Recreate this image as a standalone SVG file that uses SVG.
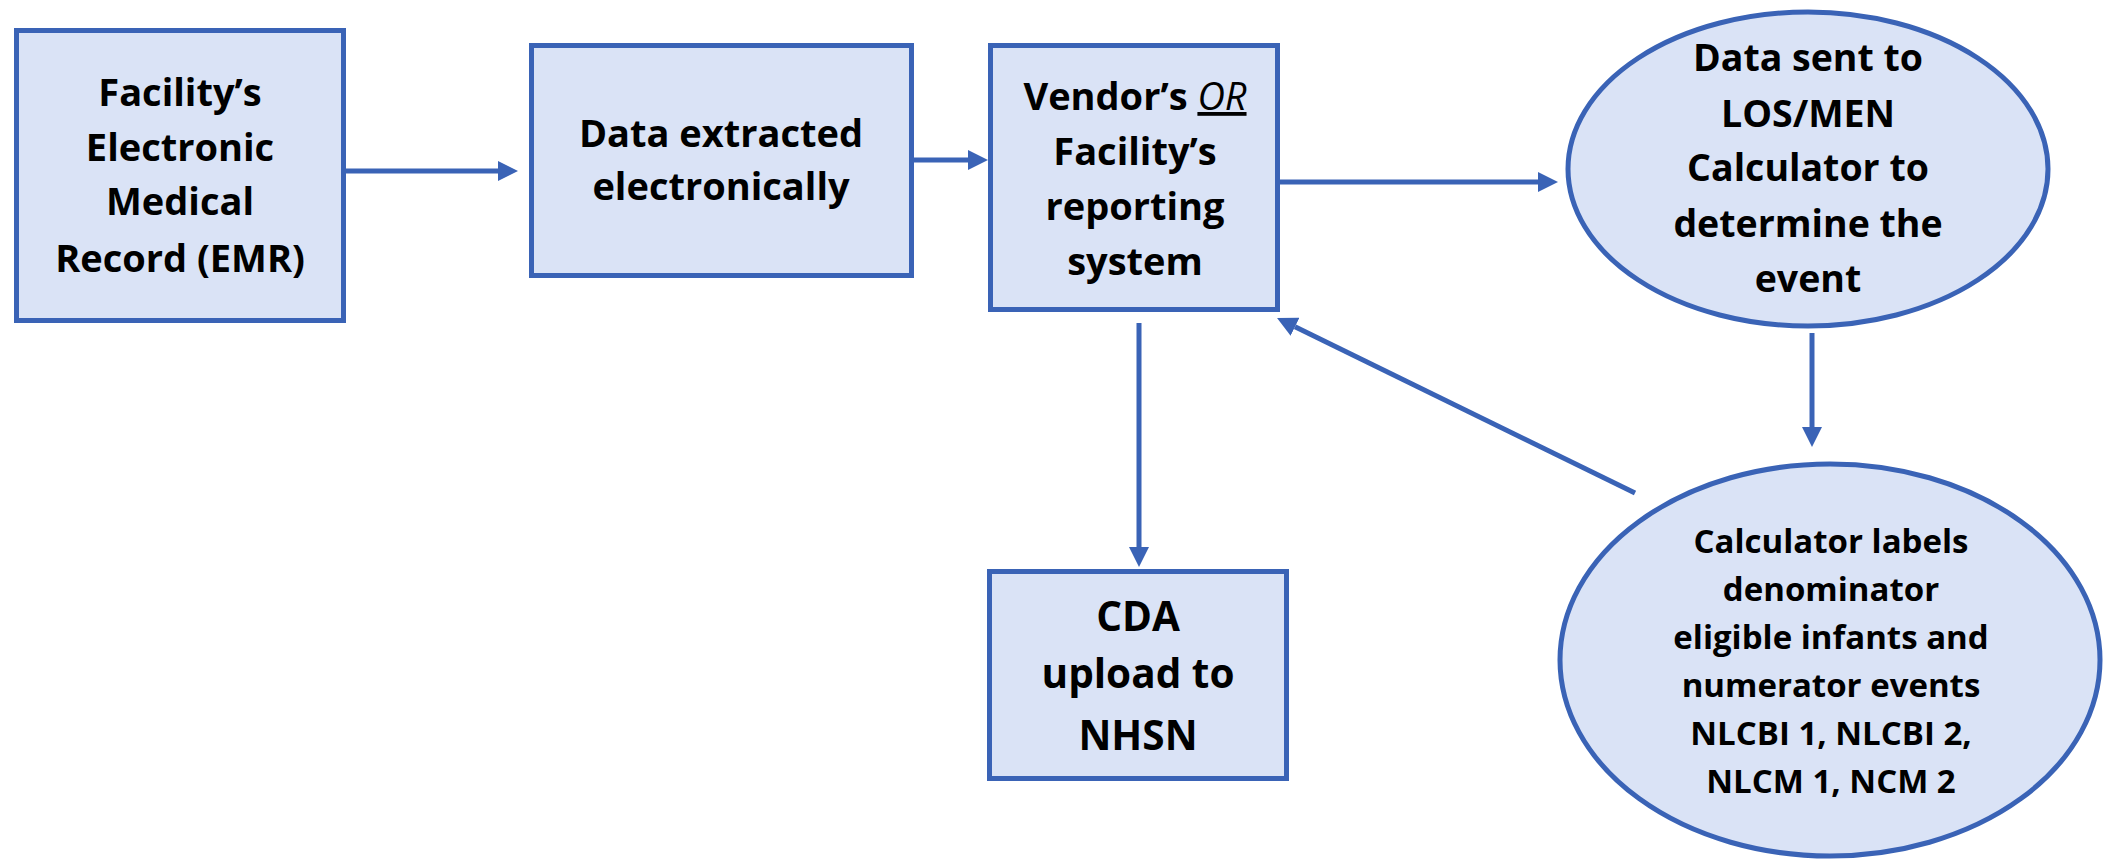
<svg xmlns="http://www.w3.org/2000/svg" width="2105" height="859" viewBox="0 0 2105 859">
<style>
  .node { fill: #DAE3F6; stroke: #3A63B6; stroke-width: 5; }
  .conn { stroke: #3A63B6; stroke-width: 5; fill: none; marker-end: url(#ah); }
  text { font-family: "Open Sans", "Liberation Sans", sans-serif; font-weight: bold; fill: #000; text-anchor: middle; }
  .t38 { font-size: 38px; }
  .t37 { font-size: 37.5px; }
  .t33 { font-size: 33px; }
  .t40 { font-size: 40.5px; }
</style>
<defs>
  <marker id="ah" markerUnits="userSpaceOnUse" markerWidth="20" markerHeight="20" refX="0" refY="10" orient="auto" viewBox="0 0 20 20">
    <path d="M0,0 L20,10 L0,20 z" fill="#3A63B6"/>
  </marker>
</defs>
<rect width="2105" height="859" fill="#FFFFFF"/>
<g id="connectors">
  <line class="conn" x1="346" y1="171" x2="498" y2="171"/>
  <line class="conn" x1="914" y1="160" x2="968" y2="160"/>
  <line class="conn" x1="1280" y1="182" x2="1538" y2="182"/>
  <line class="conn" x1="1139" y1="323" x2="1139" y2="547"/>
  <line class="conn" x1="1812" y1="333" x2="1812" y2="427"/>
  <line class="conn" x1="1635" y1="493" x2="1295" y2="326.8"/>
</g>
<g id="emr">
  <rect class="node" x="16.5" y="30.5" width="327" height="290"/>
  <text class="t38" x="180" y="106">Facility’s</text>
  <text class="t38" x="180" y="161">Electronic</text>
  <text class="t38" x="180" y="215">Medical</text>
  <text class="t38" x="180" y="272">Record (EMR)</text>
</g>
<g id="extract">
  <rect class="node" x="531.5" y="45.5" width="380" height="230"/>
  <text class="t38" x="721" y="147">Data extracted</text>
  <text class="t38" x="721" y="200">electronically</text>
</g>
<g id="reporting">
  <rect class="node" x="990.5" y="45.5" width="287" height="264"/>
  <text class="t38" x="1135" y="110">Vendor’s <tspan font-style="italic" font-weight="normal" text-decoration="underline">OR</tspan></text>
  <text class="t38" x="1135" y="165">Facility’s</text>
  <text class="t38" x="1135" y="220">reporting</text>
  <text class="t38" x="1135" y="275">system</text>
</g>
<g id="calculator">
  <ellipse class="node" cx="1808" cy="169" rx="240" ry="157"/>
  <text class="t37" x="1808" y="71">Data sent to</text>
  <text class="t37" x="1808" y="127">LOS/MEN</text>
  <text class="t37" x="1808" y="181">Calculator to</text>
  <text class="t37" x="1808" y="237">determine the</text>
  <text class="t37" x="1808" y="292">event</text>
</g>
<g id="cda">
  <rect class="node" x="989.5" y="571.5" width="297" height="207"/>
  <text class="t40" x="1138" y="631">CDA</text>
  <text class="t40" x="1138" y="688">upload to</text>
  <text class="t40" x="1138" y="750">NHSN</text>
</g>
<g id="labels">
  <ellipse class="node" cx="1830" cy="660" rx="270" ry="196"/>
  <text class="t33" x="1831" y="553">Calculator labels</text>
  <text class="t33" x="1831" y="601">denominator</text>
  <text class="t33" x="1831" y="649">eligible infants and</text>
  <text class="t33" x="1831" y="697">numerator events</text>
  <text class="t33" x="1831" y="745">NLCBI 1, NLCBI 2,</text>
  <text class="t33" x="1831" y="793">NLCM 1, NCM 2</text>
</g>
</svg>
